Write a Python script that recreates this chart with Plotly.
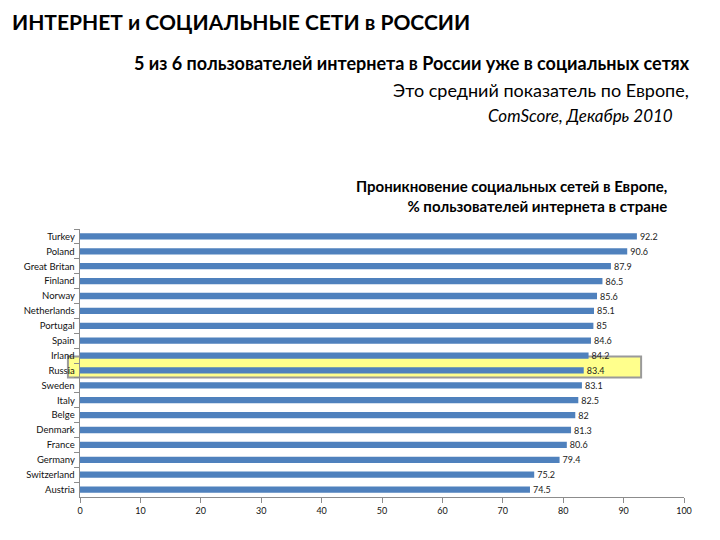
import plotly.graph_objects as go

countries = ["Turkey", "Poland", "Great Britan", "Finland", "Norway", "Netherlands",
             "Portugal", "Spain", "Irland", "Russia", "Sweden", "Italy", "Belge",
             "Denmark", "France", "Germany", "Switzerland", "Austria"]
values = [92.2, 90.6, 87.9, 86.5, 85.6, 85.1, 85, 84.6, 84.2, 83.4, 83.1, 82.5, 82,
          81.3, 80.6, 79.4, 75.2, 74.5]
x_ticks = [0, 10, 20, 30, 40, 50, 60, 70, 80, 90, 100]

title_main = "ИНТЕРНЕТ и СОЦИАЛЬНЫЕ СЕТИ в РОССИИ"
sub1 = "5 из 6 пользователей интернета в России уже в социальных сетях"
sub2 = "Это средний показатель по Европе,"
sub3 = "<i>ComScore, Декабрь 2010</i>"
chart_title = "<b>Проникновение социальных сетей в Европе,<br>% пользователей интернета в стране</b>"

FONT = "Lato"
OFF = 8  # default page body margin
W, H = 720 - OFF, 540 - OFF
l, t = 80 - OFF, 229 - OFF
pw, ph = 604, 268
r, b = W - l - pw, H - t - ph

fig = go.Figure()
fig.add_trace(go.Bar(
    y=countries, x=values, orientation="h",
    marker=dict(color="#4F81BD", line=dict(width=0)),
    text=[f"{v:g}" for v in values], textposition="outside",
    constraintext="none",
    textfont=dict(size=9, color="#222222", family=FONT),
    cliponaxis=False,
))

hi = countries.index("Russia")
fig.add_shape(type="rect", xref="paper", yref="y",
              x0=-0.02, x1=0.929, y0=hi - 0.94, y1=hi + 0.47,
              fillcolor="#FFFF8C", line=dict(color="#9A9A9A", width=2),
              layer="below")

fig.update_layout(
    width=W, height=H,
    margin=dict(l=l, r=r, t=t, b=b, autoexpand=False),
    paper_bgcolor="white", plot_bgcolor="white",
    bargap=0.58,
    showlegend=False,
    font=dict(family=FONT, color="#111111"),
    xaxis=dict(range=[0, 100], tickvals=x_ticks, ticks="outside", ticklen=5,
               tickcolor="#8C8C8C", showline=True, linecolor="#8C8C8C", automargin=False,
               showgrid=False, zeroline=False, tickfont=dict(size=9, color="#111111")),
    yaxis=dict(autorange="reversed", ticks="outside", ticklen=5, tickson="boundaries",
               tickcolor="#8C8C8C", showline=True, linecolor="#8C8C8C", automargin=False,
               showgrid=False,
               tickfont=dict(size=9.5, color="#111111"), ticksuffix=" "),
    annotations=[
        dict(text=f"<b>{title_main}</b>", x=10, y=21, showarrow=False,
             font=dict(size=21, family=FONT, color="#000000")),
        dict(text=f"<b>{sub1}</b>", x=692, y=63, showarrow=False,
             font=dict(size=18, family=FONT, color="#000000")),
        dict(text=sub2, x=691, y=90, showarrow=False,
             font=dict(size=18, family=FONT, color="#000000")),
        dict(text=sub3, x=675, y=115, showarrow=False,
             font=dict(size=17, family=FONT, color="#000000")),
        dict(text=chart_title, x=669, y=196, showarrow=False, align="right",
             font=dict(size=15, family=FONT, color="#000000")),
    ],
)

# convert screen pixel positions for annotations to paper coordinates
new_ann = []
for a in fig.layout.annotations:
    a = a.to_plotly_json()
    px, py = a["x"] - OFF, a["y"] - OFF
    a["xref"] = "paper"; a["yref"] = "paper"
    a["x"] = (px - l) / pw
    a["y"] = 1 - (py - t) / ph
    a["yanchor"] = "middle"
    a["xanchor"] = "left" if px < 100 else "right"
    new_ann.append(a)
fig.layout.annotations = new_ann

fig.write_html("out.html")
